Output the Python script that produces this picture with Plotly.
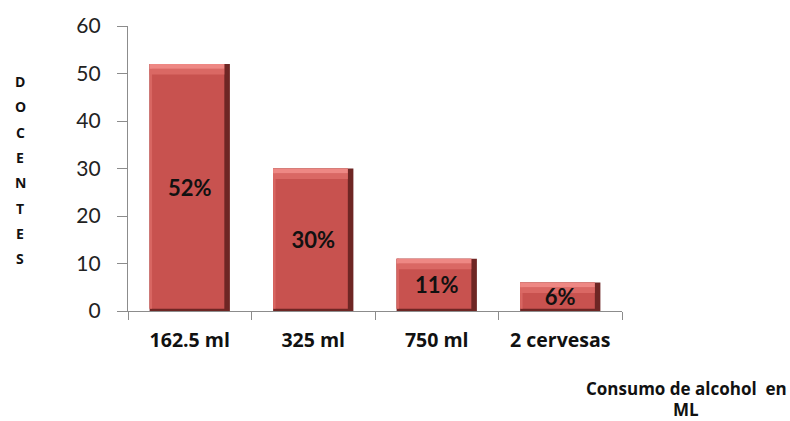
import plotly.graph_objects as go

# Consumo de alcohol por docentes
categorias = ["162.5 ml", "325 ml", "750 ml", "2 cervesas"]
docentes = [52, 30, 11, 6]
etiquetas = [f"{v}%" for v in docentes]
y_ticks = [0, 10, 20, 30, 40, 50, 60]

BAR_W = 0.65       # bar width in category units
EDGE_R = 0.045     # dark right bevel
TOP_1 = 1.0        # light top bevel bands (axis units)
TOP_2 = 1.2
BOTTOM = 0.5

fig = go.Figure()

# dark body (shows as right and bottom bevel)
fig.add_trace(go.Bar(
    x=categorias, y=docentes, width=BAR_W, offset=-BAR_W / 2,
    marker=dict(color="#6E2624", line=dict(width=0)), hoverinfo="skip",
))
# main face
fig.add_trace(go.Bar(
    x=categorias, y=[v - BOTTOM for v in docentes], base=BOTTOM,
    width=BAR_W - EDGE_R, offset=-BAR_W / 2,
    marker=dict(color="#C8524F", line=dict(width=0)), hoverinfo="skip",
))
# left highlight
fig.add_trace(go.Bar(
    x=categorias, y=[v - BOTTOM for v in docentes], base=BOTTOM,
    width=0.02, offset=-BAR_W / 2,
    marker=dict(color="#D86662", line=dict(width=0)), hoverinfo="skip",
))
# top bevel bands
fig.add_trace(go.Bar(
    x=categorias, y=[TOP_2] * len(docentes),
    base=[v - TOP_1 - TOP_2 for v in docentes],
    width=BAR_W - EDGE_R, offset=-BAR_W / 2,
    marker=dict(color="#DA6864", line=dict(width=0)), hoverinfo="skip",
))
fig.add_trace(go.Bar(
    x=categorias, y=[TOP_1] * len(docentes),
    base=[v - TOP_1 for v in docentes],
    width=BAR_W - EDGE_R, offset=-BAR_W / 2,
    marker=dict(color="#EE8884", line=dict(width=0)), hoverinfo="skip",
))
# value labels
fig.add_trace(go.Bar(
    x=categorias, y=docentes, width=BAR_W, offset=-BAR_W / 2,
    marker=dict(color="rgba(0,0,0,0)", line=dict(width=0)),
    text=etiquetas, textposition="inside", insidetextanchor="middle",
    constraintext="none",
    textfont=dict(family="Lato", size=22, color="#111111", weight="bold"),
    hoverinfo="skip",
))

fig.update_layout(
    width=790, height=421,
    margin=dict(l=128, r=168, t=22, b=110),
    paper_bgcolor="white", plot_bgcolor="white",
    barmode="overlay", showlegend=False,
    xaxis=dict(
        type="category", range=[-0.5, 3.5],
        showline=True, linecolor="#8C8C8C", linewidth=1.3,
        ticks="outside", tickson="boundaries", ticklen=8, tickcolor="#8C8C8C",
        tickfont=dict(family="Open Sans", size=19.5, color="#111111", weight="bold"),
        ticklabelstandoff=11, showgrid=False, zeroline=False,
    ),
    yaxis=dict(
        range=[0, 60], tickvals=y_ticks,
        showline=True, linecolor="#8C8C8C", linewidth=1.3,
        ticks="outside", ticklen=10, tickcolor="#8C8C8C",
        tickfont=dict(family="Lato", size=21, color="#222222"),
        ticklabelstandoff=12, showgrid=False, zeroline=False,
    ),
)

# vertical stacked axis title
titulo_y = "DOCENTES"
for i, letra in enumerate(titulo_y):
    fig.add_annotation(
        text=letra, xref="paper", yref="paper",
        x=-0.2186, y=1 - (78 - 22 + i * 25.7) / 288.7,
        xanchor="center", yanchor="middle", showarrow=False,
        font=dict(family="Open Sans", size=14, color="#111111", weight="bold"),
    )

# x-axis title on two lines
for j, linea in enumerate(["Consumo de alcohol  en", "ML"]):
    fig.add_annotation(
        text=linea, xref="paper", yref="paper",
        x=(686 - 128) / 494, y=-(389 + j * 21 - 310.7) / 288.7,
        xanchor="center", yanchor="middle", showarrow=False,
        font=dict(family="Open Sans", size=17, color="#111111", weight="bold"),
    )

fig.write_html("out.html")
